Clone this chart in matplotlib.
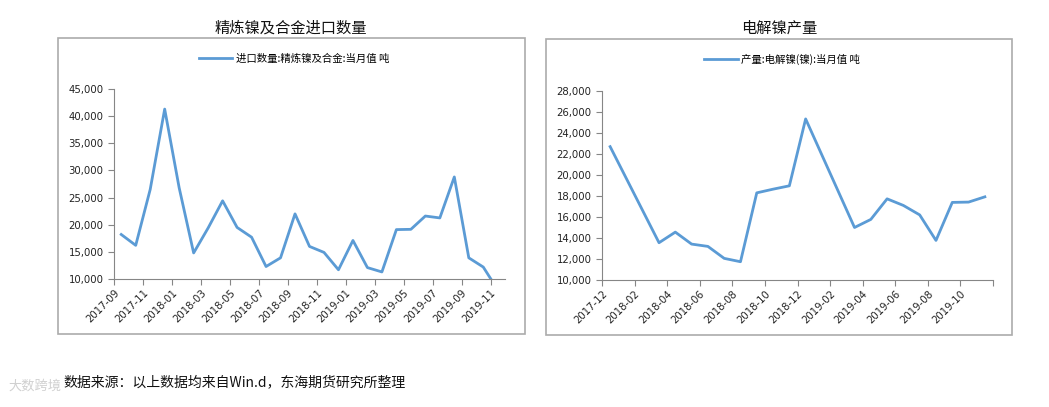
import matplotlib.pyplot as plt
import numpy as np
from matplotlib.patches import Rectangle
from matplotlib.ticker import FuncFormatter

plt.rcParams['font.family'] = ['Noto Sans CJK SC', 'DejaVu Sans']

# 精炼镍及合金进口数量 (吨), 2017-09 .. 2019-11
imp_months = ['2017-09', '2017-10', '2017-11', '2017-12', '2018-01', '2018-02', '2018-03',
              '2018-04', '2018-05', '2018-06', '2018-07', '2018-08', '2018-09', '2018-10',
              '2018-11', '2018-12', '2019-01', '2019-02', '2019-03', '2019-04', '2019-05',
              '2019-06', '2019-07', '2019-08', '2019-09', '2019-10', '2019-11']
imp_values = [18200, 16200, 26500, 41300, 26800, 14800, 19400,
              24400, 19500, 17700, 12300, 13900, 22000, 16000,
              14900, 11700, 17100, 12100, 11300, 19100, 19150,
              21600, 21250, 28800, 13900, 12200, 8000]

# 电解镍产量 (吨), 2017-12 .. 2019-11 (一、二月无单独数据)
prod_months = ['2017-12', '2018-01', '2018-02', '2018-03', '2018-04', '2018-05', '2018-06',
               '2018-07', '2018-08', '2018-09', '2018-10', '2018-11', '2018-12', '2019-01',
               '2019-02', '2019-03', '2019-04', '2019-05', '2019-06', '2019-07', '2019-08',
               '2019-09', '2019-10', '2019-11']
prod_values = [22700, np.nan, np.nan, 13550, 14560, 13420, 13200,
               12060, 11740, 18300, 18650, 18970, 25340, np.nan,
               np.nan, 15000, 15770, 17730, 17100, 16200, 13770,
               17390, 17420, 17920]

W, H = 1049, 407
LINE = '#5B9BD5'
AX = '#868686'


def rect(x0, y0, x1, y1):
    return [x0 / W, 1 - y1 / H, (x1 - x0) / W, (y1 - y0) / H]


fig = plt.figure(figsize=(W / 100, H / 100), dpi=100)

# panel frames
for x0, y0, x1, y1 in [(58, 38, 525, 334), (546, 39, 1012, 335)]:
    fig.patches.append(Rectangle((x0 / W, 1 - y1 / H), (x1 - x0) / W, (y1 - y0) / H,
                                 transform=fig.transFigure, fill=False,
                                 edgecolor='#ABABAB', linewidth=1.2))

thousands = FuncFormatter(lambda v, p: f'{int(v):,}')


def draw(ax, months, values, ylim, ystep, label, legend_x):
    vals = np.array(values, dtype=float)
    x = np.arange(len(months)) + 0.5
    ok = ~np.isnan(vals)
    ax.plot(x[ok], vals[ok], color=LINE, linewidth=2.0, label=label)
    ax.set_xlim(0, len(months))
    ax.set_ylim(*ylim)
    ax.set_yticks(np.arange(ylim[0], ylim[1] + 1, ystep))
    ax.yaxis.set_major_formatter(thousands)
    ticks = np.arange(0, len(months) + 1, 2)
    ax.set_xticks(ticks)
    ax.set_xticklabels([months[t] if t < len(months) else '' for t in ticks],
                       rotation=45, ha='right', rotation_mode='anchor')
    for s in ['top', 'right']:
        ax.spines[s].set_visible(False)
    for s in ['left', 'bottom']:
        ax.spines[s].set_color(AX)
    ax.tick_params(colors=AX, labelcolor='#222222', labelsize=7.3, length=4)
    ax.tick_params(axis='x', pad=2)
    for t in ax.get_yticklabels() + ax.get_xticklabels():
        t.set_family('DejaVu Sans')
    ax.legend(loc='center', bbox_to_anchor=(legend_x / W, 1 - 59 / H),
              bbox_transform=fig.transFigure, frameon=False, fontsize=7.5,
              handlelength=3.2, handletextpad=0.3)


ax1 = fig.add_axes(rect(114, 89, 505, 279))
draw(ax1, imp_months, imp_values, (10000, 45000), 5000,
     '进口数量:精炼镍及合金:当月值 吨', 294)

ax2 = fig.add_axes(rect(602, 91, 993, 280))
draw(ax2, prod_months, prod_values, (10000, 28000), 2000,
     '产量:电解镍(镍):当月值 吨', 782)

fig.text(291 / W, 1 - 28 / H, '精炼镍及合金进口数量', ha='center', va='center',
         fontsize=11, fontweight='medium', color='#111111')
fig.text(779 / W, 1 - 28 / H, '电解镍产量', ha='center', va='center',
         fontsize=11, fontweight='medium', color='#111111')

fig.text(63 / W, 1 - 382 / H, '数据来源：以上数据均来自Win.d，东海期货研究所整理',
         ha='left', va='center', fontsize=10, fontweight='medium', color='#111111')
fig.text(8 / W, 1 - 386 / H, '大数跨境', ha='left', va='center',
         fontsize=9.5, color='#D0D0D0')

fig.savefig('out.png', dpi=100, facecolor='white')
